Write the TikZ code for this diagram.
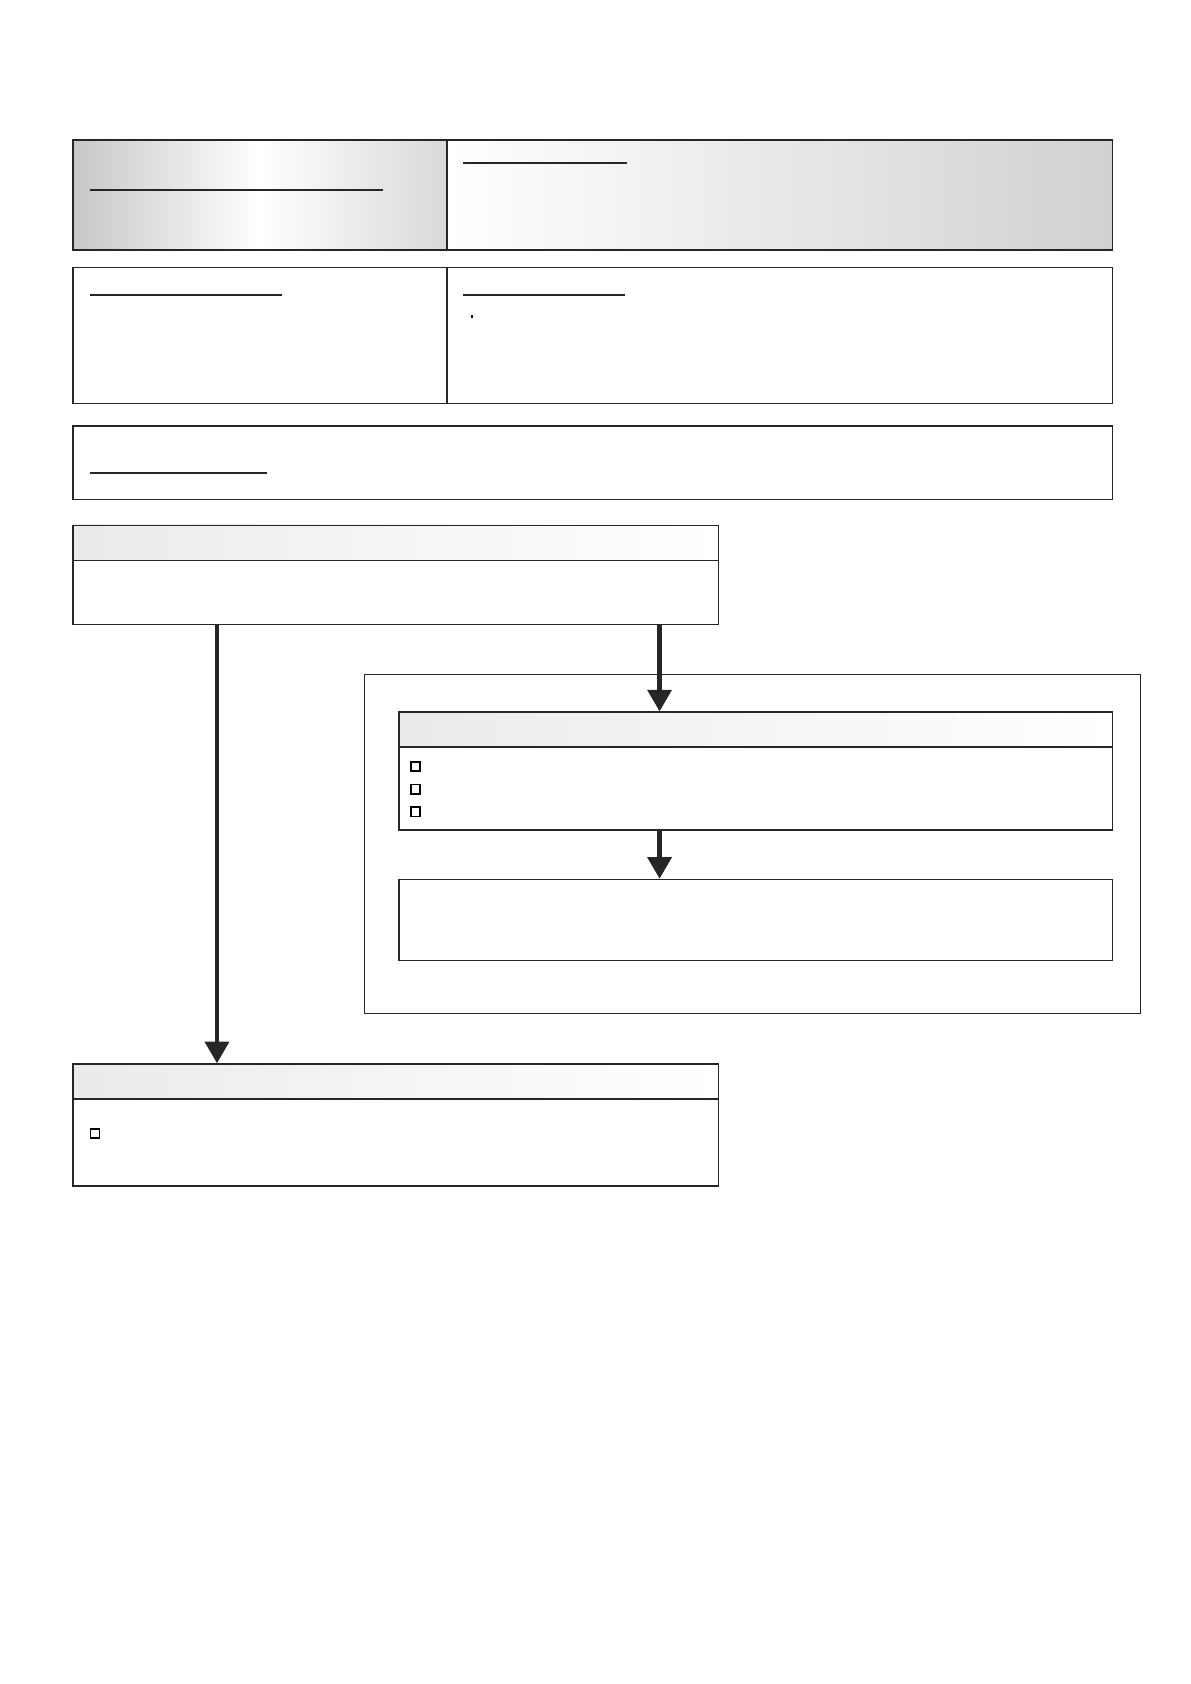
\documentclass[tikz,border=0pt]{standalone}
\usetikzlibrary{arrows.meta}
\begin{document}
\begin{tikzpicture}[x=1pt,y=-1pt,
  box/.style={draw=black!85,line width=1.4pt},
  uline/.style={line width=1.5pt,black!85},
  chk/.style={draw=black,line width=1.6pt,minimum size=8.5pt,inner sep=0pt},
  arr/.style={line width=4pt,black!85,-{Triangle[length=20pt,width=22pt]}}]
\useasboundingbox (0,0) rectangle (1103,1560);
% top shaded box
\shade[left color=black!22,right color=black!15,middle color=white] (67,129) rectangle (414,231);
\shade[left color=white,right color=black!18] (414,129) rectangle (1030,231);
\node[box,minimum width=963pt,minimum height=102pt,anchor=north west,inner sep=0pt] (top) at (67,129) {};
\draw[box] (414,129) -- (414,231);
\draw[uline] (83,176) -- (355,176);
\draw[uline] (429,151) -- (581,151);
% second box
\node[box,minimum width=963pt,minimum height=126pt,anchor=north west,inner sep=0pt] (sec) at (67,247) {};
\draw[box] (414,247) -- (414,373);
\draw[uline] (83,273) -- (261,273);
\draw[uline] (429,273) -- (579,273);
\fill (436,291.5) rectangle (438.5,294.5);
% third box
\node[box,minimum width=963pt,minimum height=68pt,anchor=north west,inner sep=0pt] (thr) at (67,394) {};
\draw[uline] (83,438) -- (247,438);
% box A
\fill[left color=black!8,right color=white] (67,486) rectangle (665,519);
\node[box,minimum width=598pt,minimum height=92pt,anchor=north west,inner sep=0pt] (A) at (67,486) {};
\draw[box] (67,519) -- (665,519);
% outer
\node[box,minimum width=719pt,minimum height=314pt,anchor=north west,inner sep=0pt] (outer) at (337,624) {};
% box B
\fill[left color=black!8,right color=white] (369,659) rectangle (1030,692);
\node[box,minimum width=661pt,minimum height=109pt,anchor=north west,inner sep=0pt] (B) at (369,659) {};
\draw[box] (369,692) -- (1030,692);
\node[chk] (c1) at (385,710) {};
\node[chk] (c2) at (385,731) {};
\node[chk] (c3) at (385,752) {};
% box C
\node[box,minimum width=661pt,minimum height=75pt,anchor=north west,inner sep=0pt] (C) at (369,814) {};
% box D
\fill[left color=black!8,right color=white] (67,985) rectangle (665,1018);
\node[box,minimum width=598pt,minimum height=113pt,anchor=north west,inner sep=0pt] (D) at (67,985) {};
\draw[box] (67,1018) -- (665,1018);
\node[chk] (c4) at (88,1050) {};
% arrows
\coordinate (a1) at (201,578); \coordinate (a1e) at (201,985);
\coordinate (a2) at (611,578); \coordinate (a2e) at (611,659);
\coordinate (a3) at (611,768); \coordinate (a3e) at (611,814);
\draw[arr] (a1) -- (a1e);
\draw[arr] (a2) -- (a2e);
\draw[arr] (a3) -- (a3e);
\end{tikzpicture}
\end{document}
